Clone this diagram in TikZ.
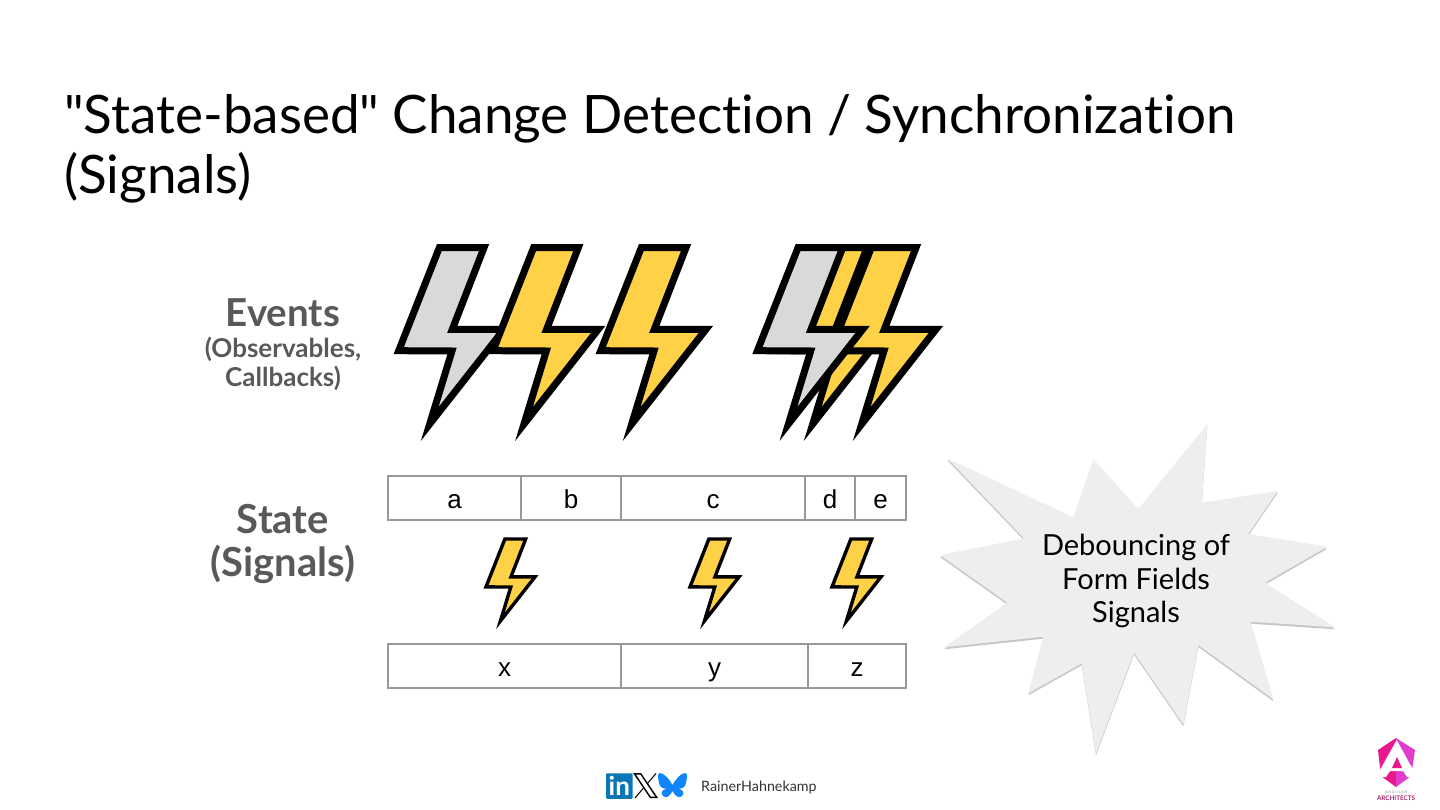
\documentclass[tikz,border=0pt]{standalone}
\usepackage{fontspec}
\usetikzlibrary{shadows}
\setmainfont{Lato}[Ligatures={TeXOff,NoCommon}]
\newfontfamily\cellfont{Liberation Sans}
\definecolor{boltyellow}{RGB}{255, 209, 71}
\definecolor{boltgray}{RGB}{217, 217, 217}
\definecolor{cellgray}{RGB}{153, 153, 153}
\definecolor{labelgray}{RGB}{89, 89, 89}
\definecolor{burstgray}{RGB}{238, 238, 238}
\definecolor{linkedinblue}{RGB}{10, 118, 180}
\definecolor{skyblue}{RGB}{17, 133, 254}
\definecolor{logopink}{RGB}{232, 24, 140}
\definecolor{logoviolet}{RGB}{226, 60, 205}
\definecolor{logotext}{RGB}{160, 30, 105}
\begin{document}
\begin{tikzpicture}[
    x=1pt, y=-1pt,
    boltshape/.pic={
      \path[draw=black, miter limit=30, pic actions] (0,103) -- (40.6,0) -- (85.3,0) -- (53.6,81.6) -- (105.3,81.6) -- (31,176.3) -- (53.3,103.3) -- cycle;
    },
    bigbolt/.style={line width=7pt},
    smallbolt/.style={scale=0.465, line width=3.4pt, fill=boltyellow},
    cell/.style={draw=cellgray, line width=1.6pt, outer sep=0pt, anchor=north west, minimum height=44pt, inner sep=0pt, text height=20pt, text depth=0pt, font=\cellfont\fontsize{26}{28}\selectfont},
    sidelabel/.style={font=\bfseries\fontsize{40}{43}\selectfont, text=labelgray, align=center}
  ]
    \useasboundingbox (0,0) rectangle (1440,810);

    \node[anchor=north west, align=left, inner sep=0pt, font=\fontsize{53}{60}\selectfont] (title) at (64,94) {"State-based" Change Detection / Synchronization\\(Signals)};

    \node[sidelabel, font=\bfseries\fontsize{38.5}{43}\selectfont] (events) at (283,313) {Events};
    \node[font=\bfseries\fontsize{26}{29}\selectfont, text=labelgray, align=center] (eventsub) at (283,364) {(Observables,\\Callbacks)};
    \node[sidelabel] (state) at (283,544) {State\\(Signals)};

    \pic[bigbolt, fill=boltgray] (boltA) at (398.7,247.7) {boltshape};
    \pic[bigbolt, fill=boltyellow] (boltB) at (493,247.7) {boltshape};
    \pic[bigbolt, fill=boltyellow] (boltC) at (600.7,247.7) {boltshape};
    \pic[bigbolt, fill=boltyellow] (boltD) at (781.7,247.7) {boltshape};
    \pic[bigbolt, fill=boltyellow] (boltE) at (830.7,247.7) {boltshape};
    \pic[bigbolt, fill=boltgray] (boltF) at (757.4,247.7) {boltshape};

    \node[cell, minimum width=133pt] (a) at (388,476) {a};
    \node[cell, minimum width=100pt] (b) at (521,476) {b};
    \node[cell, minimum width=184pt] (c) at (621,476) {c};
    \node[cell, minimum width=50pt] (d) at (805,476) {d};
    \node[cell, minimum width=51pt] (e) at (855,476) {e};

    \pic[smallbolt] (boltG) at (486,539) {boltshape};
    \pic[smallbolt] (boltH) at (690,539) {boltshape};
    \pic[smallbolt] (boltI) at (832,539) {boltshape};

    \node[cell, minimum width=233pt] (x) at (388,644) {x};
    \node[cell, minimum width=187pt] (y) at (621,644) {y};
    \node[cell, minimum width=98pt] (z) at (808,644) {z};

    \path[fill=burstgray, drop shadow={shadow xshift=0pt, shadow yshift=-2pt, opacity=0.4, fill=black!55}]
      (940,555) -- (1024,538.3) -- (947.3,458.3) -- (1073.3,517.3) -- (1093.3,459) -- (1138.3,509) -- (1207.3,424) -- (1201.7,502.7) -- (1277.7,491) -- (1248.3,534) -- (1327.3,546.7) -- (1265,582.7) -- (1335,627.3) -- (1250.7,621.7) -- (1273.3,699.3) -- (1198.3,645) -- (1183.3,724.3) -- (1134,652.7) -- (1096,753.3) -- (1081.7,663.3) -- (1028.3,693.3) -- (1043.3,636.7) -- (944,647.3) -- (1007.3,602.7) -- cycle;
    \node[align=center, font=\fontsize{29}{33.5}\selectfont] (burst) at (1136,581) {Debouncing of\\Form Fields\\Signals};

    \node[fill=linkedinblue, rounded corners=1pt, minimum width=26.5pt, minimum height=25.5pt, inner sep=0pt, text=white, font=\bfseries\fontsize{26}{26}\selectfont] (linkedin) at (619.3,786) {in};
    \fill[black] (633,773) -- (641,773) -- (658,798) -- (650,798) -- cycle;
    \fill[white] (636,774.5) -- (640.2,774.5) -- (655,796.5) -- (650.8,796.5) -- cycle;
    \draw[black, line width=1pt] (656,773.5) -- (647,784) (643.5,788) -- (635,798);
    \fill[skyblue] (672.5,785) .. controls (670,780) and (664,773) .. (660,773) .. controls (657,773) and (658,778) .. (659,783) .. controls (660,788) and (664,789) .. (667,788.5) .. controls (662,790) and (660,793) .. (663,796) .. controls (666,799) and (670,796) .. (672.5,791) .. controls (675,796) and (679,799) .. (682,796) .. controls (685,793) and (683,790) .. (678,788.5) .. controls (681,789) and (685,788) .. (686,783) .. controls (687,778) and (688,773) .. (685,773) .. controls (681,773) and (675,780) .. (672.5,785) -- cycle;
    \node[anchor=west, inner sep=0pt, text=black!80, font=\fontsize{14.3}{16}\selectfont] (handle) at (701,787) {RainerHahnekamp};

    \fill[logopink] (1396,738) -- (1378,750) -- (1381,776) -- (1396,787) -- cycle;
    \fill[logoviolet] (1396,738) -- (1415,750) -- (1411,776) -- (1396,787) -- cycle;
    \fill[white] (1396.7,740) -- (1376,777) -- (1386,777) -- (1390,771) -- (1403,771) -- (1407,777) -- (1417,777) -- cycle;
    \fill[logopink] (1397,757) -- (1392,768) -- (1402,768) -- cycle;
    \node[inner sep=0pt, text=black!50, font=\fontsize{3.5}{4}\selectfont] (logotop) at (1396,792) {A N G U L A R};
    \node[inner sep=0pt, text=logotext, font=\bfseries\fontsize{6.3}{7}\selectfont] (logotext) at (1396,798.5) {ARCHITECTS};
  \end{tikzpicture}
\end{document}
